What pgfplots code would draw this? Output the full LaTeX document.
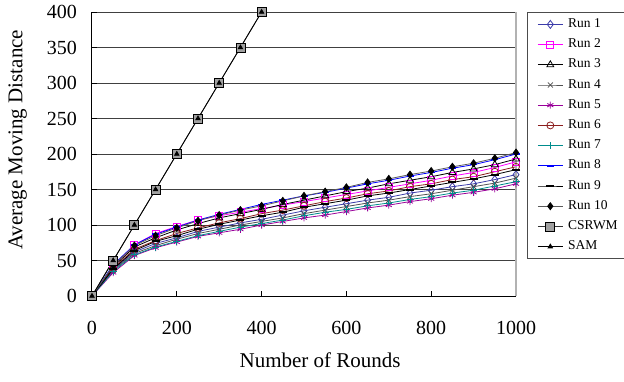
\documentclass[border=0pt]{standalone}
\usepackage{fontspec}
\setmainfont{Liberation Serif}
\usepackage{pgfplots}
\usepackage{pgfplotstable}
\pgfplotsset{compat=1.18}

\definecolor{cR1}{RGB}{60,60,170}
\definecolor{cR2}{RGB}{255,0,255}
\definecolor{cR4}{RGB}{80,80,80}
\definecolor{cR5}{RGB}{153,0,153}
\definecolor{cR6}{RGB}{140,30,30}
\definecolor{cR7}{RGB}{0,140,140}
\definecolor{cR8}{RGB}{0,0,255}
\definecolor{cR10}{RGB}{90,90,90}
\definecolor{cCS}{RGB}{160,160,160}

\pgfplotstableread{
x    r1  r2  r3  r4  r5  r6  r7  r8  r9  r10
0    0   0   0   0   0   0   0   0   0   0
50   37  42  41  36  33  39  35  44  38  43
100  62  72  69  60  57  66  58  72  64  71
150  74  88  82  71  68  78  69  87  77  85
200  82  98  93  80  76  88  77  97  85  96
250  91  107 102 88  84  96  85  107 94  106
300  97  113 110 94  89  103 91  115 101 114
350  103 118 116 100 94  109 97  122 107 121
400  108 123 122 105 100 116 102 129 113 127
450  114 128 129 110 105 121 107 135 118 134
500  120 133 135 116 110 127 113 141 125 141
550  125 138 141 121 114 133 118 146 130 147
600  130 143 147 126 119 138 122 152 135 153
650  135 148 152 131 124 144 127 158 141 160
700  139 153 158 135 128 148 131 163 145 165
750  145 158 163 140 133 154 136 169 150 171
800  149 163 168 144 137 158 140 174 155 176
850  154 169 174 149 142 164 145 180 160 182
900  158 174 179 154 146 168 149 185 165 187
950  164 181 185 159 151 175 155 192 171 194
1000 171 189 193 166 158 182 161 200 178 202
}\runs

\begin{document}
\begin{tikzpicture}
\useasboundingbox (-92pt,-85pt) rectangle (532pt,296pt);
\begin{axis}[
  at={(0pt,0pt)}, anchor=south west,
  scale only axis, width=424pt, height=284pt,
  xmin=0, xmax=1000, ymin=0, ymax=400,
  xtick={0,200,...,1000}, ytick={0,50,...,400},
  axis lines*=left,
  axis line style={black, line width=1pt},
  tick align=inside,
  major tick length=5pt,
  tick style={black, line width=0.8pt},
  ymajorgrids,
  grid style={black!75, line width=0.8pt},
  /pgf/number format/assume math mode=true,
  /pgf/number format/1000 sep={},
  ticklabel style={font=\fontsize{20}{20}\selectfont},
  xticklabel style={anchor=center, yshift=-32pt},
  yticklabel style={anchor=east, xshift=-11.5pt},
  xlabel={Number of Rounds},
  ylabel={Average Moving Distance},
  label style={font=\fontsize{21}{21}\selectfont},
  xlabel style={at={(axis description cs:0.538,-0.225)}, anchor=center},
  ylabel style={at={(axis description cs:-0.175,0.55)}, anchor=center},
  legend cell align=left,
  legend style={at={(axis description cs:1.026,1)}, anchor=north west,
    font=\fontsize{13.5}{13.5}\selectfont, draw=black!70, line width=0.8pt,
    inner xsep=10pt, inner ysep=6.5pt, column sep=5pt, row sep=9.2pt,
    nodes={inner sep=0pt, text height=8.5pt, text depth=2.5pt}},
  legend image code/.code={\draw[mark repeat=2,mark phase=2] plot coordinates {(0pt,0pt) (12.5pt,0pt) (25pt,0pt)};},
  every axis plot/.append style={line width=0.8pt},
  clip=false,
]
\addplot[cR1, mark=diamond, mark size=4pt, mark options={fill=white, solid}] table[x=x,y=r1]{\runs};
\addlegendentry{Run 1}
\addplot[cR2, mark=square, mark size=3.5pt, mark options={fill=white}] table[x=x,y=r2]{\runs};
\addlegendentry{Run 2}
\addplot[black, mark=triangle, mark size=4pt, mark options={fill=white}] table[x=x,y=r3]{\runs};
\addlegendentry{Run 3}
\addplot[cR4, mark=x, mark size=3.5pt] table[x=x,y=r4]{\runs};
\addlegendentry{Run 4}
\addplot[cR5, mark=asterisk, mark size=3.5pt] table[x=x,y=r5]{\runs};
\addlegendentry{Run 5}
\addplot[cR6, mark=o, mark size=3.5pt, mark options={fill=white}] table[x=x,y=r6]{\runs};
\addlegendentry{Run 6}
\addplot[cR7, mark=+, mark size=3.5pt] table[x=x,y=r7]{\runs};
\addlegendentry{Run 7}
\addplot[cR8, mark=-, mark size=3.5pt, mark options={line width=1.5pt}] table[x=x,y=r8]{\runs};
\addlegendentry{Run 8}
\addplot[black, mark=-, mark size=4pt, mark options={line width=2pt}] table[x=x,y=r9]{\runs};
\addlegendentry{Run 9}
\addplot[cR10, mark=diamond*, mark size=3.5pt, mark options={fill=black, draw=black}] table[x=x,y=r10]{\runs};
\addlegendentry{Run 10}
\addplot[black!80, mark=square*, mark size=4.5pt, mark options={fill=cCS, draw=black}] coordinates {
(0,0) (50,50) (100,100) (150,150) (200,200) (250,250) (300,300) (350,350) (400,400)};
\addlegendentry{CSRWM}
\addplot[black, mark=triangle*, mark size=2.5pt, mark options={fill=black}] coordinates {
(0,0) (50,50) (100,100) (150,150) (200,200) (250,250) (300,300) (350,350) (400,400)};
\addlegendentry{SAM}
\draw[black!30, line width=1.5pt] (rel axis cs:1,0) -- (rel axis cs:1,1);
\end{axis}
\end{tikzpicture}
\end{document}
